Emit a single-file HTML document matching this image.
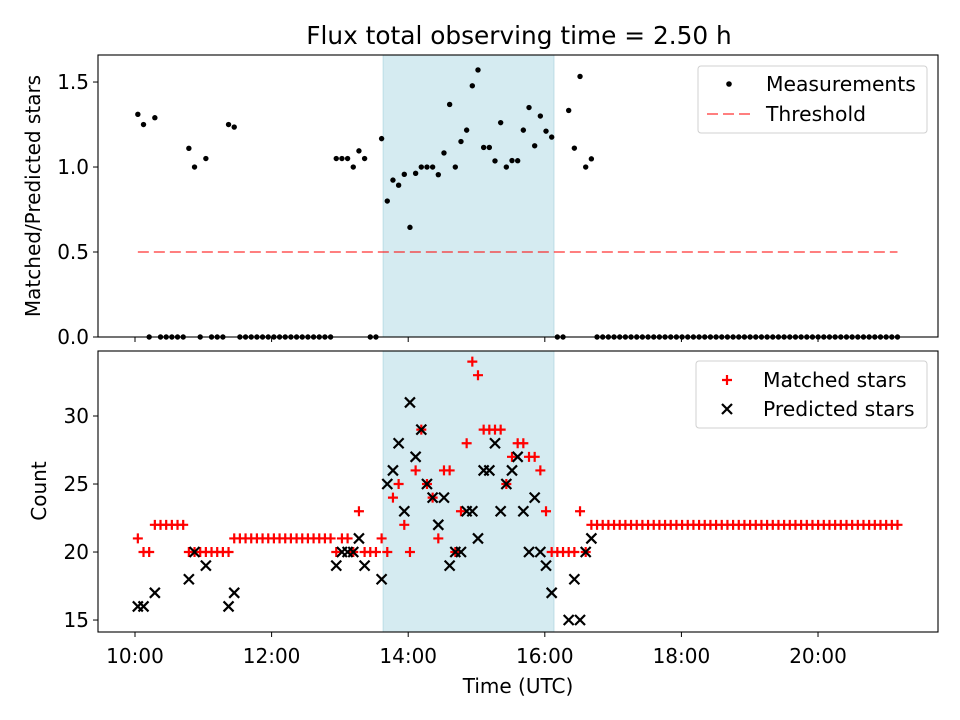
<!DOCTYPE html>
<html><head><meta charset="utf-8"><style>
html,body{margin:0;padding:0;background:#fff;}
svg{display:block;font-family:"DejaVu Sans","Liberation Sans",sans-serif;}
</style></head><body>
<div style="position:relative;width:960px;height:720px">
<svg id="fig" width="960" height="720" viewBox="0 0 960 720" style="position:absolute;left:0;top:0"></svg>
<svg width="960" height="720" style="position:absolute;left:0;top:0;pointer-events:none">
  <text x="519" y="44" text-anchor="middle" font-size="24.8">Flux total observing time = 2.50 h</text>
  <text transform="translate(40,196) rotate(-90)" text-anchor="middle" font-size="20">Matched/Predicted stars</text>
  <text transform="translate(46,491) rotate(-90)" text-anchor="middle" font-size="20">Count</text>
  <text x="518" y="693" text-anchor="middle" font-size="20">Time (UTC)</text>
  <g>
    <rect x="698" y="66" width="229" height="67" rx="3" fill="#fff" fill-opacity="0.8" stroke="#d0d0d0"/>
    <circle cx="729" cy="84" r="2.8" fill="#000"/>
    <text x="766" y="91" font-size="20.3">Measurements</text>
    <line x1="707" x2="751" y1="114" y2="114" stroke="#ff0000" stroke-opacity="0.5" stroke-width="2" stroke-dasharray="11 5"/>
    <text x="766" y="121" font-size="20.3">Threshold</text>
  </g>
  <g>
    <rect x="696" y="361" width="231" height="67" rx="3" fill="#fff" fill-opacity="0.8" stroke="#d0d0d0"/>
    <path d="M722,380H732M727,375V385" stroke="#ff0000" stroke-width="2.2"/>
    <text x="763" y="387" font-size="20.3">Matched stars</text>
    <path d="M722,404L732,414M722,414L732,404" stroke="#000" stroke-width="2.2"/>
    <text x="763" y="416" font-size="20.3">Predicted stars</text>
  </g>
</svg>
</div>
<script>
// ---- data ----
const startMin = 2.5;   // first sample, minutes after 10:00
const stepMin = 4.98;   // sampling interval (minutes)
const matched = [21,20,20,22,22,22,22,22,22,20,20,20,20,20,20,20,20,21,21,21,21,21,21,21,21,21,21,21,21,21,21,21,21,21,21,
20,21,21,20,23,20,20,20,21,20,24,25,22,20,26,29,25,24,21,26,26,20,23,28,34,33,29,29,29,29,25,27,28,28,27,27,26,23,20,20,20,20,20,23,20,22,
22,22,22,22,22,22,22,22,22,22,22,22,22,22,22,22,22,22,22,22,22,22,22,22,22,22,22,22,22,22,22,22,22,22,22,22,22,22,22,22,22,22,22,22,22,22,22,22,22,22,22,22,22,22];
const predicted = [16,16,null,17,null,null,null,null,null,18,20,null,19,null,null,null,16,17,null,null,null,null,null,null,null,null,null,null,null,null,null,null,null,null,null,
19,20,20,20,21,19,null,null,18,25,26,28,23,31,27,29,25,24,22,24,19,20,20,23,23,21,26,26,28,23,25,26,27,23,20,24,20,19,17,null,null,15,18,15,20,21];
const ratio = [1.31,1.25,0,1.29,0,0,0,0,0,1.11,1.00,0,1.05,0,0,0,1.25,1.235,0,0,0,0,0,0,0,0,0,0,0,0,0,0,0,0,0,
1.05,1.05,1.05,1.00,1.095,1.05,0,0,1.167,0.80,0.923,0.893,0.957,0.645,0.963,1.0,1.0,1.0,0.955,1.083,1.368,1.0,1.15,1.217,1.478,1.571,1.115,1.115,1.036,1.261,1.0,1.038,1.037,1.217,1.35,1.125,1.3,1.211,1.176,0,0,1.333,1.111,1.533,1.0,1.048,
0,0,0,0,0,0,0,0,0,0,0,0,0,0,0,0,0,0,0,0,0,0,0,0,0,0,0,0,0,0,0,0,0,0,0,0,0,0,0,0,0,0,0,0,0,0,0,0,0,0,0,0,0,0];
const threshold = 0.5;
const shadeStart = 218; // minutes after 10:00
const shadeEnd = 368;
const xTickMins = [0,120,240,360,480,600];
const xTickLabels = ["10:00","12:00","14:00","16:00","18:00","20:00"];
const yTopTicks = [0,0.5,1.0,1.5];
const yTopLabels = ["0.0","0.5","1.0","1.5"];
const yBotTicks = [15,20,25,30];
const yBotLabels = ["15","20","25","30"];

// ---- scales ----
const L=98,R=938, T1=55,B1=337, T2=351,B2=632;
const xMin=-32.5, xMax=705.4;
const sx = m => L + (m-xMin)/(xMax-xMin)*(R-L);
const syTop = v => B1 - (v-0)/(1.659-0)*(B1-T1);
const syBot = v => B2 - (v-14.12)/(34.78-14.12)*(B2-T2);
const times = matched.map((_,i)=>startMin+stepMin*i);

const NS="http://www.w3.org/2000/svg";
const svg=document.getElementById('fig');
function mk(tag,attrs,parent){const e=document.createElementNS(NS,tag);for(const k in attrs)e.setAttribute(k,attrs[k]);(parent||svg).appendChild(e);return e;}
function txt(s,attrs,parent){const e=mk('text',attrs,parent);e.textContent=s;return e;}

[[T1,B1],[T2,B2]].forEach(([t,b],k)=>{
  const sh=mk('rect',{x:sx(shadeStart),y:t,width:sx(shadeEnd)-sx(shadeStart),height:b-t,fill:'#d5ebf1',stroke:'#bcdde6','stroke-width':1});
  
  
});

const th=mk('line',{x1:sx(times[0]),x2:sx(times[times.length-1]),y1:syTop(threshold),y2:syTop(threshold),stroke:'#ff0000','stroke-opacity':0.5,'stroke-width':2,'stroke-dasharray':'11 5'});



const gm=mk('g',{});


ratio.forEach((v,i)=>{
  const c=mk('circle',{cx:sx(times[i]),cy:syTop(v),r:2.7,fill:'#000'},gm);
  
  
});

const gp=mk('g',{});


matched.forEach((v,i)=>{
  if(v==null)return;
  const x=sx(times[i]),y=syBot(v),s=5;
  const p=mk('path',{d:`M${x-s},${y}H${x+s}M${x},${y-s}V${y+s}`,stroke:'#ff0000','stroke-width':2.2,fill:'none'},gp);
  
  
});
const gx=mk('g',{});


predicted.forEach((v,i)=>{
  if(v==null)return;
  const x=sx(times[i]),y=syBot(v),s=5;
  const p=mk('path',{d:`M${x-s},${y-s}L${x+s},${y+s}M${x-s},${y+s}L${x+s},${y-s}`,stroke:'#000','stroke-width':2.2,fill:'none'},gx);
  
  
});

[[T1,B1,'top-axes-frame'],[T2,B2,'bottom-axes-frame']].forEach(([t,b,n])=>{
  const f=mk('rect',{x:L,y:t,width:R-L,height:b-t,fill:'none',stroke:'#000','stroke-width':1.1});
  
  
});

xTickMins.forEach((m,i)=>{
  const x=sx(m);
  mk('line',{x1:x,x2:x,y1:B1,y2:B1+5,stroke:'#000','stroke-width':1});
  mk('line',{x1:x,x2:x,y1:B2,y2:B2+5,stroke:'#000','stroke-width':1});
  const t=txt(xTickLabels[i],{x:x,y:663,'text-anchor':'middle','font-size':20,fill:'#000'});
  
  
});
yTopTicks.forEach((v,i)=>{
  const y=syTop(v);
  mk('line',{x1:L-5,x2:L,y1:y,y2:y,stroke:'#000','stroke-width':1});
  const t=txt(yTopLabels[i],{x:L-9,y:y+7,'text-anchor':'end','font-size':20,fill:'#000'});
  
  
});
yBotTicks.forEach((v,i)=>{
  const y=syBot(v);
  mk('line',{x1:L-5,x2:L,y1:y,y2:y,stroke:'#000','stroke-width':1});
  const t=txt(yBotLabels[i],{x:L-9,y:y+7,'text-anchor':'end','font-size':20,fill:'#000'});
  
  
});
</script>
</body></html>
